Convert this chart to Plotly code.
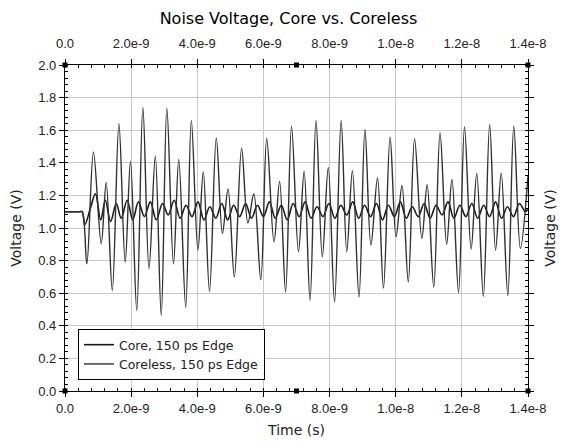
import plotly.graph_objects as go

# ---- data (time in ns, voltage in V) ----
coreless_t_ns = [0.0, 0.45, 0.52, 0.66, 0.86, 1.095, 1.245, 1.43, 1.63, 1.82, 1.98, 2.17, 2.355, 2.54, 2.73,
                 2.91, 3.08, 3.28, 3.44, 3.65, 3.82, 4.02, 4.18, 4.37, 4.575, 4.76, 4.93, 5.12, 5.34,
                 5.53, 5.71, 5.92, 6.10, 6.32, 6.49, 6.67, 6.85, 7.06, 7.23, 7.41, 7.59, 7.78, 7.96,
                 8.15, 8.35, 8.52, 8.69, 8.89, 9.07, 9.25, 9.45, 9.63, 9.83, 10.01, 10.19, 10.38,
                 10.57, 10.79, 10.95, 11.15, 11.34, 11.54, 11.70, 11.90, 12.08, 12.28, 12.45, 12.65,
                 12.84, 13.02, 13.19, 13.39, 13.57, 13.77, 14.0]
coreless_v = [1.10, 1.10, 1.10, 0.78, 1.467, 0.905, 1.28, 0.617, 1.64, 0.79, 1.41, 0.494, 1.739, 0.75, 1.44,
              0.463, 1.735, 0.78, 1.42, 0.514, 1.66, 0.864, 1.344, 0.611, 1.553, 0.967, 1.24, 0.70, 1.49,
              1.03, 1.21, 0.683, 1.549, 0.915, 1.286, 0.607, 1.625, 0.854, 1.348, 0.556, 1.66, 0.823, 1.372,
              0.545, 1.66, 0.854, 1.352, 0.576, 1.605, 0.895, 1.307, 0.632, 1.557, 0.946, 1.261, 0.669,
              1.548, 0.936, 1.265, 0.638, 1.584, 0.90, 1.30, 0.603, 1.62, 0.87, 1.335, 0.58,
              1.636, 0.864, 1.338, 0.586, 1.625, 0.875, 1.32]

core_t_ns = [0.0, 0.45, 0.52, 0.60, 0.78, 0.92, 1.08, 1.22, 1.38, 1.55, 1.70, 1.88, 2.05, 2.22, 2.40, 2.58,
             2.76, 2.95, 3.12, 3.30, 3.48, 3.66, 3.84, 4.02, 4.20, 4.38, 4.56, 4.74, 4.92, 5.10, 5.28,
             5.46, 5.64, 5.82, 6.00, 6.18, 6.36, 6.54, 6.72, 6.90, 7.08, 7.26, 7.44, 7.62, 7.80, 7.98,
             8.16, 8.34, 8.52, 8.70, 8.88, 9.06, 9.24, 9.42, 9.60, 9.78, 9.96, 10.14, 10.32, 10.50,
             10.68, 10.86, 11.04, 11.22, 11.40, 11.58, 11.76, 11.94, 12.12, 12.30, 12.48, 12.66,
             12.84, 13.02, 13.20, 13.38, 13.56, 13.74, 13.92, 14.0]
core_v = [1.10, 1.10, 1.10, 1.02, 1.13, 1.21, 1.05, 1.17, 1.04, 1.15, 1.06, 1.17, 1.05, 1.16, 1.07, 1.16,
          1.05, 1.15, 1.08, 1.17, 1.06, 1.14, 1.07, 1.16, 1.05, 1.13, 1.06, 1.15, 1.05, 1.14, 1.07,
          1.15, 1.06, 1.14, 1.07, 1.16, 1.06, 1.14, 1.05, 1.15, 1.07, 1.16, 1.06, 1.13, 1.07, 1.15,
          1.06, 1.14, 1.08, 1.16, 1.06, 1.14, 1.07, 1.15, 1.05, 1.14, 1.07, 1.16, 1.06, 1.13,
          1.07, 1.15, 1.06, 1.14, 1.08, 1.16, 1.06, 1.14, 1.07, 1.15, 1.06, 1.14,
          1.07, 1.16, 1.06, 1.13, 1.07, 1.15, 1.10, 1.12]

x_tick_vals_ns = [0, 2, 4, 6, 8, 10, 12, 14]
x_tick_text = ["0.0", "2.0e-9", "4.0e-9", "6.0e-9", "8.0e-9", "1.0e-8", "1.2e-8", "1.4e-8"]
y_tick_vals = [0.0, 0.2, 0.4, 0.6, 0.8, 1.0, 1.2, 1.4, 1.6, 1.8, 2.0]
y_tick_text = ["0.0", "0.2", "0.4", "0.6", "0.8", "1.0", "1.2", "1.4", "1.6", "1.8", "2.0"]

NS = 1e-9
FONT = "Liberation Sans, Arial, sans-serif"
WIDE = "DejaVu Sans, sans-serif"

fig = go.Figure()
fig.add_trace(go.Scatter(
    x=[t * NS for t in core_t_ns], y=core_v, name="Core, 150 ps Edge",
    mode="lines", line=dict(color="#1a1a1a", width=1.6, shape="spline", smoothing=1.0)))
fig.add_trace(go.Scatter(
    x=[t * NS for t in coreless_t_ns], y=coreless_v, name="Coreless, 150 ps Edge",
    mode="lines", line=dict(color="#303030", width=1.4, shape="spline", smoothing=1.0)))
# invisible helper trace so the top / right axes are drawn
fig.add_trace(go.Scatter(x=[coreless_t_ns[0] * NS], y=[coreless_v[0]], xaxis="x2", yaxis="y2",
                         mode="lines", showlegend=False, hoverinfo="skip", line=dict(width=0)))

x_range = [x_tick_vals_ns[0] * NS, x_tick_vals_ns[-1] * NS]
y_range = [y_tick_vals[0], y_tick_vals[-1]]
tv = [v * NS for v in x_tick_vals_ns]

axis_common = dict(showline=True, linecolor="black", linewidth=1.2, ticks="outside", ticklen=5,
                   tickcolor="black", tickwidth=1.2, zeroline=False, automargin=False,
                   tickfont=dict(family=FONT, size=13, color="#222"))

fig.update_layout(
    width=561, height=437,
    margin=dict(l=57, r=41, t=57, b=54, autoexpand=False),
    paper_bgcolor="white", plot_bgcolor="white",
    title=dict(text="Noise Voltage, Core vs. Coreless", x=0.5, xanchor="center", y=0.977, yanchor="middle",
               automargin=False, font=dict(family=WIDE, size=16, color="black")),
    xaxis=dict(range=x_range, tickvals=tv, ticktext=x_tick_text, showgrid=True, gridcolor="#c8c8c8",
               gridwidth=1.2, ticklabelstandoff=0,
               title=dict(text="Time (s)", font=dict(family=WIDE, size=14, color="#222"), standoff=10),
               minor=dict(dtick=0.4 * NS, tick0=0, ticks="inside", ticklen=3, tickcolor="black",
                          showgrid=False),
               **axis_common),
    yaxis=dict(range=y_range, tickvals=y_tick_vals, ticktext=y_tick_text, showgrid=True,
               gridcolor="#c8c8c8", gridwidth=1.2,
               title=dict(text="Voltage (V)", font=dict(family=WIDE, size=14, color="#222"), standoff=18),
               minor=dict(dtick=0.04, tick0=0, ticks="inside", ticklen=3, tickcolor="black",
                          showgrid=False),
               **axis_common),
    xaxis2=dict(range=x_range, overlaying="x", side="top", tickvals=tv, ticktext=x_tick_text,
                showgrid=False, ticklabelstandoff=6,
                minor=dict(dtick=0.4 * NS, tick0=0, ticks="inside", ticklen=3, tickcolor="black"),
                **axis_common),
    yaxis2=dict(range=y_range, overlaying="y", side="right", tickvals=y_tick_vals, showticklabels=False,
                showgrid=False,
                title=dict(text="Voltage (V)", font=dict(family=WIDE, size=14, color="#222"), standoff=12),
                minor=dict(dtick=0.04, tick0=0, ticks="inside", ticklen=3, tickcolor="black"),
                **axis_common),
    legend=dict(x=0.028, y=0.19, xanchor="left", yanchor="top", bgcolor="white",
                bordercolor="black", borderwidth=1, font=dict(family=WIDE, size=12.5, color="#222"),
                tracegroupgap=0, itemwidth=30),
    showlegend=True,
)

# small square markers on the frame (corners and mid-points of top / bottom)
for xd, yd in [(0, 0), (1, 0), (0, 1), (1, 1), (0.5, 0), (0.5, 1)]:
    fig.add_shape(type="rect", xref="x domain", yref="y domain", xsizemode="pixel", ysizemode="pixel",
                  xanchor=xd, yanchor=yd, x0=-2.5, x1=2.5, y0=-2.5, y1=2.5,
                  fillcolor="black", line=dict(width=0), layer="above")

fig.write_html("out.html")
